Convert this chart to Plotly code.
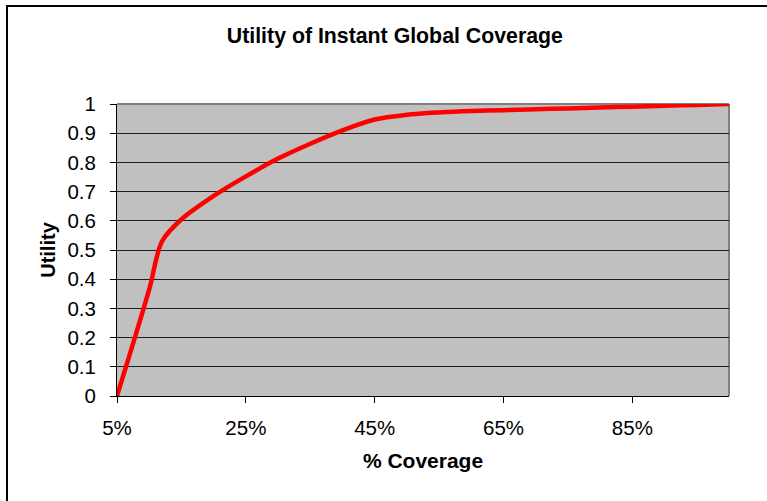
import plotly.graph_objects as go

# Coverage (%) and the utility value at each coverage level
coverage = [5, 10, 12, 15, 20, 25, 30, 35, 40, 45, 50, 55, 60, 65, 70, 75, 80, 85, 90, 95, 100]
utility = [0.0, 0.365, 0.53, 0.605, 0.685, 0.752, 0.813, 0.864, 0.91, 0.947, 0.963, 0.971,
           0.976, 0.979, 0.982, 0.985, 0.988, 0.991, 0.994, 0.997, 1.0]

x_tick_vals = [5, 25, 45, 65, 85]
x_tick_text = ["5%", "25%", "45%", "65%", "85%"]

FONT = "Liberation Sans, Arial, sans-serif"

fig = go.Figure()
fig.add_trace(go.Scatter(
    x=coverage, y=utility, mode="lines",
    line=dict(color="#FF0000", width=4.5, shape="spline", smoothing=0.9),
    showlegend=False, hoverinfo="skip",
))

fig.update_layout(
    width=767, height=501,
    margin=dict(l=117, r=38, t=104, b=105),
    paper_bgcolor="white",
    plot_bgcolor="#C0C0C0",
    font=dict(family=FONT, color="black", size=20),
    title=dict(
        text="<b>Utility of Instant Global Coverage</b>",
        font=dict(family=FONT, size=21.3, color="black"),
        x=0.454, xref="paper", xanchor="center",
        y=1 - 36 / 501, yref="container", yanchor="middle",
    ),
    xaxis=dict(
        range=[5, 100],
        tickvals=x_tick_vals, ticktext=x_tick_text,
        ticks="outside", ticklen=6, tickwidth=1, tickcolor="black",
        showline=True, linecolor="black", linewidth=1,
        showgrid=False, zeroline=False,
        ticklabelstandoff=7,
        tickfont=dict(family=FONT, size=20.5),
        title=dict(text="<b>% Coverage</b>", font=dict(family=FONT, size=21), standoff=15),
    ),
    yaxis=dict(
        range=[0, 1], dtick=0.1, tick0=0,
        ticks="outside", ticklen=6, tickwidth=1, tickcolor="black",
        showline=True, linecolor="black", linewidth=1,
        showgrid=True, gridcolor="#1e1e1e", gridwidth=1,
        zeroline=False,
        ticklabelstandoff=10,
        tickfont=dict(family=FONT, size=20.5),
        title=dict(text="<b>Utility</b>", font=dict(family=FONT, size=20), standoff=6),
    ),
    shapes=[
        # grey frame on the top and right of the plotting area
        dict(type="line", xref="paper", yref="paper", x0=0, x1=1, y0=1, y1=1,
             line=dict(color="#808080", width=2), layer="between"),
        dict(type="line", xref="paper", yref="paper", x0=1, x1=1, y0=0, y1=1,
             line=dict(color="#808080", width=2), layer="between"),
        # outer chart border
        dict(type="rect", xref="paper", yref="paper",
             x0=(7 - 117) / 612, x1=2.0, y0=-1.0, y1=(396 - 6) / 292,
             line=dict(color="black", width=2), fillcolor="rgba(0,0,0,0)", layer="above"),
    ],
)

fig.write_html("out.html")
